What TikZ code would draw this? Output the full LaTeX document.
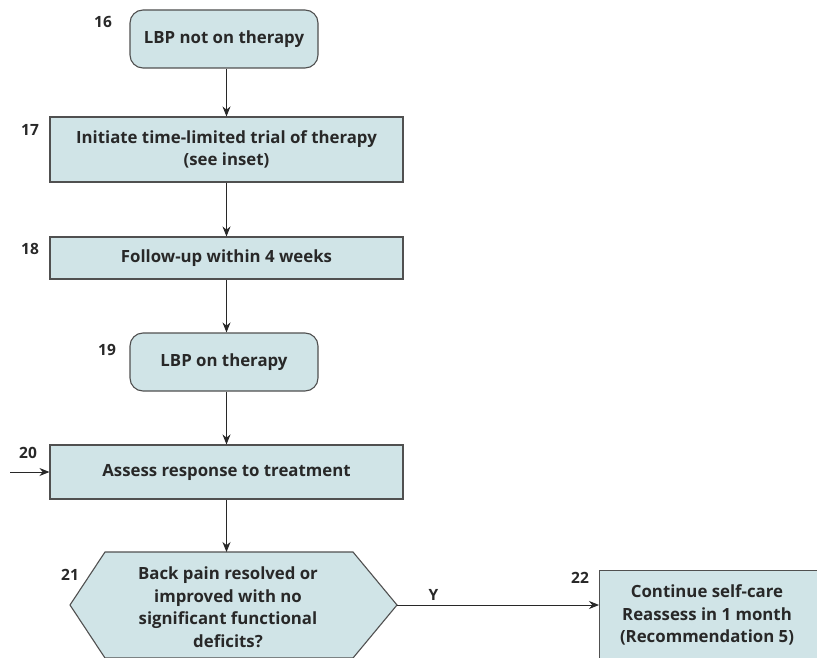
\documentclass[tikz,border=0pt]{standalone}
\usepackage{fontspec}
\setmainfont{Open Sans}
\usetikzlibrary{arrows.meta}
\definecolor{boxfill}{RGB}{208,228,231}
\definecolor{boxline}{RGB}{80,80,80}
\definecolor{txt}{RGB}{40,40,40}
\tikzset{
  every node/.style={text=txt,font=\fontsize{16.8}{22.5}\selectfont\bfseries},
  sq/.style={draw=boxline,fill=boxfill,line width=1.1pt,inner sep=0pt,align=center},
  rd/.style={sq,rounded corners=13pt},
  num/.style={font=\fontsize{15.5}{16}\selectfont\bfseries,inner sep=0pt},
  arr/.style={draw=txt,line width=0.9pt,-{Stealth[length=10pt,width=8pt]}}
}
\begin{document}
\begin{tikzpicture}[x=1pt,y=-1pt]
\useasboundingbox (0,0) rectangle (817,658);
\clip (0,0) rectangle (817,658);
\fill[white] (0,0) rectangle (817,658);
% nodes
\node[rd,minimum width=188pt,minimum height=58pt] (n16) at (224,39) {LBP not on therapy};
\node[sq,minimum width=353pt,minimum height=65pt] (n17) at (226.5,149.5) {Initiate time-limited trial of therapy\\(see inset)};
\node[sq,minimum width=353pt,minimum height=42pt] (n18) at (226.5,258) {Follow-up within 4 weeks};
\node[rd,minimum width=188pt,minimum height=58pt] (n19) at (224,362) {LBP on therapy};
\node[sq,minimum width=353pt,minimum height=54pt] (n20) at (226.5,472) {Assess response to treatment};
% hexagon
\draw[draw=boxline,fill=boxfill,line width=1.1pt] (105,552) -- (353,552) -- (397,605) -- (353,658) -- (105,658) -- (70,605) -- cycle;
\coordinate (hexT) at (226.5,552);
\coordinate (hexR) at (397,605);
\node[align=center,inner sep=0pt] (n21) at (228,607) {Back pain resolved or\\improved with no\\significant functional\\deficits?};
\node[sq,minimum width=218pt,minimum height=130pt,anchor=north west] (n22) at (599,570) {};
\node[align=center,inner sep=0pt] (t22) at (707,615) {Continue self-care\\Reassess in 1 month\\(Recommendation 5)};
\coordinate (in20) at (10,472);
% numbers
\node[num] (l16) at (103,22) {16};
\node[num] (l17) at (30,130) {17};
\node[num] (l18) at (30,249) {18};
\node[num] (l19) at (107,350) {19};
\node[num] (l20) at (28,453) {20};
\node[num] (l21) at (70,575) {21};
\node[num] (l22) at (580,578) {22};
% arrows
\draw[arr] (n16.south -| n17.north) -- (n17.north);
\draw[arr] (n17.south) -- (n18.north);
\draw[arr] (n18.south) -- (n18.south |- n19.north);
\draw[arr] (n19.south -| n20.north) -- (n20.north);
\draw[arr] (n20.south) -- (hexT);
\draw[arr] (in20) -- (n20.west);
\draw[arr] (hexR) -- (hexR -| n22.west) node[pos=0.18,above=4pt,num] (ly) {Y};
\end{tikzpicture}
\end{document}
